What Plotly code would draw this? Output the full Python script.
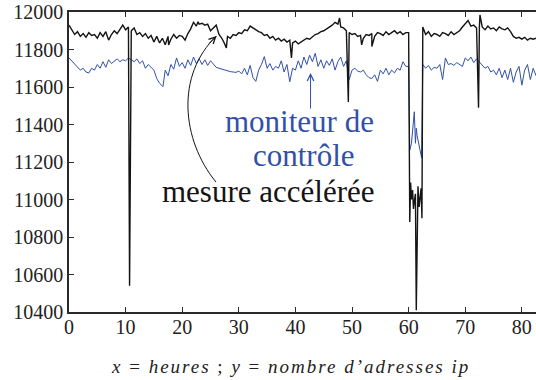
import numpy as np
import plotly.graph_objects as go

# ---------------- data ----------------
STEP = 0.5  # hours between base samples

# "mesure accélérée" (black), base samples at x = 0, 0.5, ..., 82.5
black_base = [
    11930, 11905, 11880, 11895, 11870, 11885, 11865, 11890, 11875, 11880,
    11860, 11890, 11870, 11895, 11850, 11880, 11900, 11885, 11910, 11930,
    11905, 11920, 11900, 11915, 11880, 11890, 11870, 11885, 11860, 11875,
    11840, 11870, 11835, 11860, 11825, 11870, 11855, 11880, 11860, 11875,
    11870, 11850, 11885, 11910, 11945, 11925, 11935, 11940, 11930, 11935,
    11900, 11915, 11930, 11880, 11860, 11830, 11870, 11860, 11880, 11875,
    11890, 11885, 11905, 11900, 11925, 11915, 11905, 11895, 11890, 11875,
    11880, 11860, 11870, 11850, 11860, 11845, 11855, 11840, 11850, 11835,
    11845, 11830, 11840, 11850, 11860, 11855, 11870, 11880, 11885, 11895,
    11900, 11910, 11920, 11930, 11945, 11935, 11920, 11915, 11900, 11890,
    11880, 11885, 11870, 11875, 11860, 11880, 11875, 11885, 11870, 11890,
    11885, 11875, 11895, 11880, 11890, 11900, 11885, 11895, 11880, 11890,
    11890, 11000, 10990, 10780, 11010, 11920, 11880, 11895, 11870, 11885,
    11880, 11870, 11890, 11885, 11875, 11895, 11880, 11890, 11900, 11920,
    11935, 11955, 11925, 11930, 11915, 11920, 11920, 11905, 11925, 11910,
    11915, 11900, 11920, 11910, 11905, 11915, 11895, 11870, 11860, 11865,
    11855, 11865, 11850, 11860, 11855, 11860,
]
# isolated spikes and the outage around hour 61 (black)
black_extra_x = [10.7, 17.6, 22.8, 27.8, 39.3, 47.8, 49.35, 51.7, 53.5,
                 60.2, 60.35, 60.7, 60.85, 61.2, 61.35, 61.65, 61.85, 62.2, 62.35,
                 72.35, 72.6]
black_extra_y = [10540, 11824, 11948, 11808, 11755, 11968, 11520, 11825, 11816,
                 10880, 11090, 11050, 10950, 11030, 10410, 11070, 10960, 11060, 10900,
                 11490, 11984]

# "moniteur de contrôle" (blue), base samples at x = 0, 0.5, ..., 82.5
blue_base = [
    11755, 11740, 11720, 11705, 11690, 11700, 11680, 11675, 11700, 11690,
    11720, 11700, 11735, 11705, 11745, 11725, 11740, 11750, 11735, 11745,
    11740, 11755, 11745, 11735, 11750, 11725, 11740, 11700, 11720, 11705,
    11690, 11645, 11620, 11605, 11690, 11660, 11720, 11695, 11755, 11710,
    11730, 11700, 11745, 11715, 11760, 11725, 11750, 11720, 11745, 11715,
    11740, 11725, 11705, 11700, 11695, 11690, 11688, 11682, 11680, 11678,
    11685, 11670, 11700, 11665, 11715, 11650, 11630, 11690, 11720, 11762,
    11700, 11725, 11690, 11710, 11700, 11740, 11680, 11720, 11628, 11700,
    11690, 11740, 11700, 11760, 11720, 11770, 11735, 11780, 11710, 11745,
    11700, 11740, 11715, 11750, 11690, 11735, 11760, 11710, 11740, 11640,
    11690, 11700, 11685, 11680, 11690, 11665, 11650, 11645, 11665, 11630,
    11690, 11670, 11700, 11665, 11690, 11675, 11700, 11690, 11735, 11710,
    11710, 11300, 11468, 11340, 11260, 11720, 11700, 11715, 11690, 11705,
    11700, 11720, 11640, 11755, 11720, 11725, 11715, 11730, 11720, 11710,
    11755, 11740, 11760, 11730, 11750, 11735, 11715, 11700, 11710, 11680,
    11690, 11665, 11700, 11650, 11690, 11640, 11700, 11625, 11680, 11710,
    11610, 11690, 11720, 11640, 11700, 11660,
]
blue_extra_x = [16.6, 60.2, 60.75, 61.2, 61.35, 61.75, 62.3]
blue_extra_y = [11602, 11264, 11400, 11300, 11380, 11300, 11221]

x_tick_vals = [0, 10, 20, 30, 40, 50, 60, 70, 80]
y_tick_vals = [10400, 10600, 10800, 11000, 11200, 11400, 11600, 11800, 12000]
y_tick_text = ["10400", "10600", "10800", "11000", "11200", "11400", "11600", "11800", "12000"]

label_blue = ["moniteur de", "contrôle"]
label_black = "mesure accélérée"
x_title = ("<span style='letter-spacing:2px'><i>x</i> = <i>heures</i> ; "
           "<i>y</i> = <i>nombre d’adresses ip</i></span>")


def merge(base, ex_x, ex_y):
    bx = np.arange(len(base)) * STEP
    xs = np.concatenate([bx, np.array(ex_x, float)])
    ys = np.concatenate([np.array(base, float), np.array(ex_y, float)])
    order = np.argsort(xs, kind="stable")
    return xs[order], ys[order]


bx, by = merge(black_base, black_extra_x, black_extra_y)
ux, uy = merge(blue_base, blue_extra_x, blue_extra_y)

BLUE = "#3150a8"
BLACK = "#141414"
AXC = "#2a2a2a"
SERIF = "Liberation Serif"

fig = go.Figure()
fig.add_trace(go.Scatter(x=ux, y=uy, mode="lines",
                         line=dict(color=BLUE, width=1), hoverinfo="skip"))
fig.add_trace(go.Scatter(x=bx, y=by, mode="lines",
                         line=dict(color=BLACK, width=1.4), hoverinfo="skip"))

# text labels
fig.add_annotation(x=40.8, y=11418, text=label_blue[0], showarrow=False,
                   font=dict(family=SERIF, size=31, color=BLUE),
                   xanchor="center", yanchor="middle")
fig.add_annotation(x=41.6, y=11237, text=label_blue[1], showarrow=False,
                   font=dict(family=SERIF, size=31, color=BLUE),
                   xanchor="center", yanchor="middle")
fig.add_annotation(x=35.25, y=11045, text=label_black, showarrow=False,
                   font=dict(family=SERIF, size=31, color=BLACK),
                   xanchor="center", yanchor="middle")

# blue straight arrow
fig.add_annotation(x=42.67, y=11675, ax=42.67, ay=11477, axref="x", ayref="y",
                   text="", showarrow=True, arrowhead=5, arrowsize=1.3,
                   arrowwidth=1, arrowcolor=BLUE)

# black curved arrow
fig.add_shape(type="path", xref="x", yref="y",
              path="M 25.97,11093 C 19.88,11317 18.82,11664 26.06,11872",
              line=dict(color=BLACK, width=1))
fig.add_annotation(x=26.06, y=11872, ax=-9, ay=9, text="", showarrow=True,
                   arrowhead=5, arrowsize=1.3, arrowwidth=1, arrowcolor=BLACK)

# x title as annotation below plot
fig.add_annotation(x=39.1, y=-0.18, xref="x", yref="paper", text=x_title,
                   showarrow=False,
                   font=dict(family=SERIF, size=19, color="#222"),
                   xanchor="center", yanchor="middle")

fig.update_layout(
    width=536, height=380,
    margin=dict(l=69, r=0, t=12, b=68),
    paper_bgcolor="white", plot_bgcolor="white",
    showlegend=False,
    font=dict(family=SERIF, size=18, color="#222"),
)
fig.update_xaxes(range=[0, 82.5], tickvals=x_tick_vals, ticks="inside",
                 ticklen=5, tickwidth=1, tickcolor=AXC, showline=True,
                 linecolor=AXC, linewidth=1.5, mirror="ticks",
                 showgrid=False, zeroline=False, ticklabelstandoff=-4,
                 tickfont=dict(family=SERIF, size=20, color="#222"))
fig.update_yaxes(range=[10400, 12000], tickvals=y_tick_vals, ticktext=y_tick_text,
                 ticks="inside",
                 ticklen=5, tickwidth=1, tickcolor=AXC, showline=True,
                 linecolor=AXC, linewidth=1.5, mirror=False,
                 showgrid=False, zeroline=False, ticklabelstandoff=0,
                 tickfont=dict(family=SERIF, size=20, color="#222"))

fig.write_html("out.html")
